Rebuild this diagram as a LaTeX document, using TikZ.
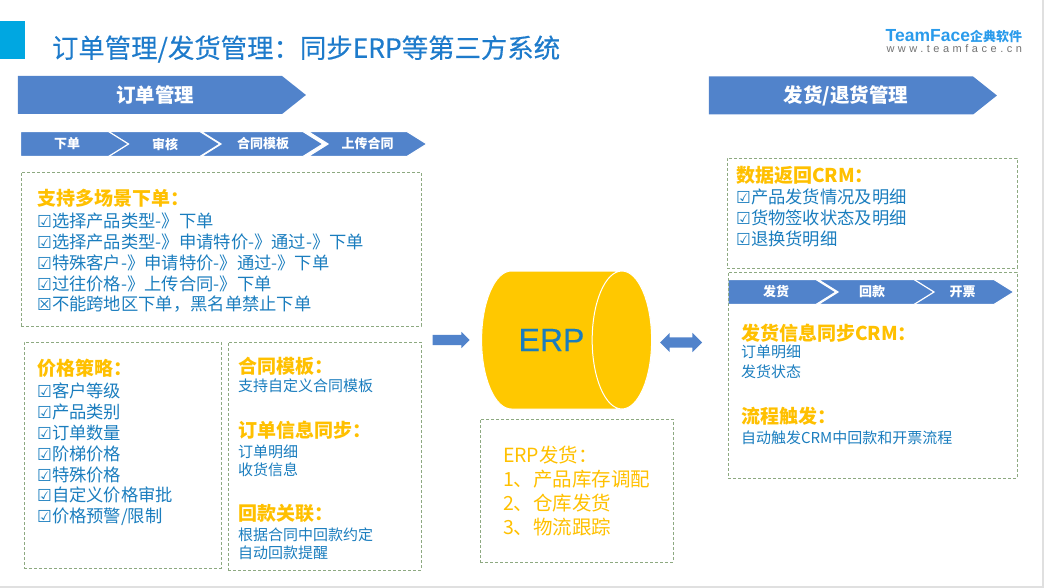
\documentclass[tikz,border=0pt]{standalone}
\usepackage{fontspec}
\setmainfont{Noto Sans CJK SC}
\newfontfamily\titlefont[FakeBold=0.3]{Noto Sans CJK SC}
\newfontfamily\latinfont[FakeBold=0.3]{Liberation Sans}
\newfontfamily\logofont{Liberation Sans}
\newfontfamily\symbfont{DejaVu Sans}
\newfontfamily\webfont[LetterSpace=32]{Liberation Sans}
\usepackage{xcolor}
\usetikzlibrary{
    shapes.geometric,
    shapes.symbols,
    shapes.arrows,
    positioning
}
\definecolor{barblue}{HTML}{5183CB}
\definecolor{inkblue}{HTML}{1A7DBE}
\definecolor{titleblue}{HTML}{1E7BCB}
\definecolor{logoblue}{HTML}{2A9BEB}
\definecolor{amber}{HTML}{FFC000}
\definecolor{drumgold}{HTML}{FFC800}
\definecolor{teal}{HTML}{00A7E1}
\definecolor{panelgreen}{HTML}{8DA981}
\newcommand{\ok}{\makebox[15pt][l]{\symbfont\fontsize{16.5}{14}\selectfont ☑}}
\newcommand{\no}{\makebox[15pt][l]{\symbfont\fontsize{16.5}{14}\selectfont ☒}}
\tikzset{%
    % Specifications for style of nodes:
    plain/.style = {inner sep=0pt, outer sep=0pt},
    banner/.style = {
        plain, signal, signal to=east, signal from=nowhere,
        signal pointer angle=77, minimum height=38pt,
        fill=barblue, text=white, font=\fontsize{19.5}{22}\selectfont\bfseries
    },
    chev/.style = {
        plain, signal, signal to=east, signal from=west,
        signal pointer angle=64, minimum height=25pt,
        fill=barblue, draw=white, line width=1.2pt, text=white,
        font=\fontsize{13}{15}\selectfont\bfseries
    },
    chevfirst/.style = {chev, signal from=nowhere},
    panel/.style = {plain, rectangle, draw=panelgreen, densely dashed, line width=.6pt},
    head/.style = {plain, anchor=west, text=amber, font=\fontsize{19}{22}\selectfont\bfseries},
    list/.style = {plain, align=left, text=inkblue, font=\fontsize{17.3}{20.8}\selectfont},
    small/.style = {plain, align=left, text=inkblue, font=\fontsize{15}{17.5}\selectfont},
    erplist/.style = {plain, anchor=north west, align=left, text=amber, font=\fontsize{19.5}{24}\selectfont},
    flow/.style = {inner sep=5pt, outer sep=0pt, fill=barblue}
}
\begin{document}
\begin{tikzpicture}[x=1pt,y=-1pt]
\useasboundingbox (0,0) rectangle (1044,588);
% page edge
\fill[black!12] (1042,0) rectangle (1044,588);
\fill[black!12] (0,586) rectangle (1044,588);
% Specification of title and logo
\node (mark)  [plain, fill=teal, minimum width=25pt, minimum height=38pt] at (12.5,40) {};
\node (title) [plain, anchor=west, text=titleblue, font=\fontsize{26.4}{30}\selectfont\titlefont] at (52,49) {订单管理/发货管理：同步ERP等第三方系统};
\node (logo)  [plain, anchor=east, text=logoblue, font=\fontsize{13}{15}\selectfont\bfseries] at (1022,36) {{\logofont\bfseries\fontsize{17.5}{18}\selectfont TeamFace}企典软件};
\node (web)   [plain, anchor=east, text=black!55, font=\fontsize{11}{12}\selectfont] at (1022,49) {\webfont www.teamface.cn};
% Specification of banners
\node (order) [banner, minimum width=288pt] at (150,95) {\hspace*{10pt}订单管理};
\node (ship)  [banner, minimum width=288pt] at (841,95.5) {\hspace*{10pt}发货/退货管理};
% chevrons, last one first
\node (upload)   [chev, minimum width=119pt] at (367.5,144) {上传合同};
\node (template) [chev, minimum width=122pt] at (262,144) {\hspace*{2pt}合同模板};
\node (review)   [chev, minimum width=112pt] at (164,144) {\hspace*{2pt}审核};
\node (place)    [chevfirst, minimum width=108pt] at (64.5,144) {\hspace*{5pt}下单};
\node (invoice)  [chev, minimum width=103pt] at (962.5,292) {开票};
\node (payment)  [chev, minimum width=116pt] at (876,292) {\hspace*{-8pt}回款};
\node (deliver)  [chevfirst, minimum width=108pt] at (772,292) {\hspace*{8pt}发货};
% Specification of panels
\node (scene)    [panel, minimum width=400pt, minimum height=154pt] at (221,249) {};
\node (price)    [panel, minimum width=197pt, minimum height=226pt] at (122.5,455) {};
\node (contract) [panel, minimum width=193pt, minimum height=228pt] at (324.5,456) {};
\node (erpbox)   [panel, minimum width=193pt, minimum height=143pt] at (576.5,490.5) {};
\node (back)     [panel, minimum width=290pt, minimum height=110pt] at (872,213) {};
\node (sync)     [panel, minimum width=289pt, minimum height=206pt] at (872.5,375) {};
% Specification of texts
\node (scenehead) [head] at (37,198) {支持多场景下单：};
\node (scenelist) [list, below right=6pt and 0pt of scenehead.south west] {\ok 选择产品类型-》下单\\\ok 选择产品类型-》申请特价-》通过-》下单\\\ok 特殊客户-》申请特价-》通过-》下单\\\ok 过往价格-》上传合同-》下单\\\no 不能跨地区下单，黑名单禁止下单};
\node (pricehead) [head] at (37,368) {价格策略：};
\node (pricelist) [list, below right=6pt and 0pt of pricehead.south west] {\ok 客户等级\\\ok 产品类别\\\ok 订单数量\\\ok 阶梯价格\\\ok 特殊价格\\\ok 自定义价格审批\\\ok 价格预警/限制};
\node (tplhead)   [head] at (238,366) {合同模板：};
\node (tpllist)   [small, below right=4pt and 0pt of tplhead.south west] {支持自定义合同模板};
\node (synchead)  [head] at (238,430) {订单信息同步：};
\node (synclist)  [small, below right=6pt and 0pt of synchead.south west] {订单明细\\收货信息};
\node (payhead)   [head] at (238,513) {回款关联：};
\node (paylist)   [small, below right=6pt and 0pt of payhead.south west] {根据合同中回款约定\\自动回款提醒};
\node (backhead)  [head] at (736,175) {数据返回CRM：};
\node (backlist)  [list, below right=5pt and 0pt of backhead.south west] {\ok 产品发货情况及明细\\\ok 货物签收状态及明细\\\ok 退换货明细};
\node (infohead)  [head] at (741,333) {发货信息同步CRM：};
\node (infolist)  [small, below right=3pt and 0pt of infohead.south west, font=\fontsize{15}{20}\selectfont] {订单明细\\发货状态};
\node (flowhead)  [head] at (741,416) {流程触发：};
\node (flowlist)  [small, below right=6pt and 0pt of flowhead.south west] {自动触发CRM中回款和开票流程};
\node (erptext)   [erplist] at (503,446) {ERP发货：\\1、产品库存调配\\2、仓库发货\\3、物流跟踪};
% Specification of ERP and arrows
\node (erp) [plain, cylinder, shape aspect=2.7, minimum width=138pt, minimum height=170pt,
    cylinder uses custom fill, cylinder body fill=drumgold, cylinder end fill=drumgold,
    draw=white, line width=1pt, text=inkblue, font=\fontsize{32}{36}\selectfont\latinfont] at (551.5,340) {ERP};
\node (into) [flow, single arrow, minimum height=37pt,
    single arrow head extend=3pt, single arrow head indent=0pt] at (448.5,340) {};
\node (both) [flow, double arrow, minimum height=42pt,
    double arrow head extend=4.5pt] at (681,342.5) {};
\end{tikzpicture}
\end{document}
